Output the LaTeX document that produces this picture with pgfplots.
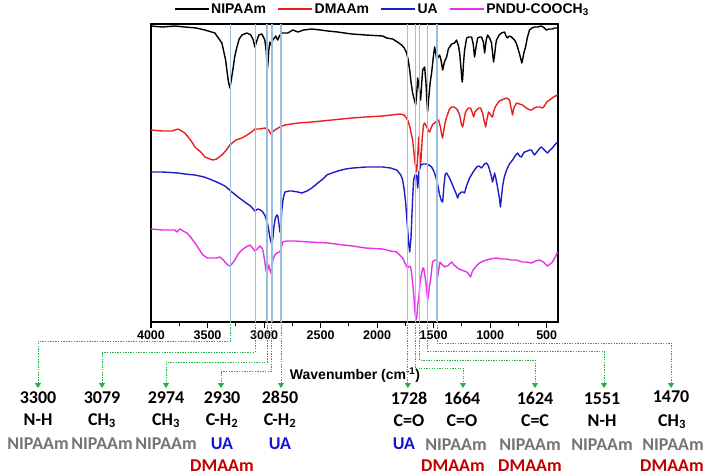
\documentclass[border=0pt]{standalone}
\usepackage{fontspec}
\setmainfont{Liberation Sans}
\newfontfamily\carl{Carlito}
\usepackage{pgfplots}
\pgfplotsset{compat=1.18}
\usetikzlibrary{arrows.meta}
\definecolor{cRed}{HTML}{E8201E}
\definecolor{cBlue}{HTML}{1E1EC8}
\definecolor{cMag}{HTML}{E633E6}
\definecolor{vline}{HTML}{9ABFDD}
\definecolor{gdot}{HTML}{22B04A}
\definecolor{tgray}{HTML}{747474}
\definecolor{tblue}{HTML}{1414D2}
\definecolor{tred}{HTML}{C00000}

\pgfplotstableread{
wn h
4000 296
3900 295
3788 296
3700 295
3600 294
3523 292
3435 289
3373 279
3340 262
3329 252
3315 240
3302 234
3290 242
3276 252
3260 265
3240 275
3220 283
3196 287
3152 289
3117 287
3095 282
3081 275
3065 281
3046 287
3019 288
2993 282
2980 270
2972 252
2966 258
2958 272
2949 280
2940 277
2930 279
2922 282
2896 286
2885 283
2878 282
2865 286
2843 289
2790 289
2746 292
2701 290
2650 292
2578 293
2500 292
2436 291
2350 290
2224 288
2100 287
1950 286
1915 284
1862 283
1820 280
1783 277
1760 274
1739 269
1725 262
1712 252
1700 240
1686 229
1670 222
1659 217
1650 228
1641 244
1630 236
1615 222
1605 240
1597 252
1580 255
1568 240
1560 222
1553 210
1545 222
1530 240
1518 249
1500 268
1491 275
1480 268
1473 262
1460 265
1447 267
1435 262
1420 252
1405 260
1385 265
1370 273
1359 275
1340 278
1315 279
1297 282
1280 276
1270 269
1255 250
1248 240
1244 242
1235 260
1226 272
1208 284
1190 285
1164 285
1150 278
1138 265
1125 275
1111 284
1090 285
1076 285
1060 280
1049 269
1035 282
1023 287
1005 284
988 279
975 265
970 260
962 266
950 278
944 282
920 287
900 289
873 290
860 286
847 284
830 286
811 285
795 283
784 282
770 279
758 275
740 268
720 259
714 262
700 270
687 275
670 285
652 292
630 294
608 295
580 295
546 296
520 294
502 292
480 293
449 293
430 294
404 294
}\nipaam

\pgfplotstableread{
wn h
4000 192
3900 191
3815 191
3761 193
3730 191
3700 189
3650 182
3611 175
3560 170
3523 165
3480 163
3452 162
3420 163
3373 167
3340 171
3302 177
3250 182
3196 184
3150 187
3100 191
3081 193
3040 193
2993 194
2960 192
2940 188
2925 190
2905 192
2860 195
2816 197
2700 199
2578 200
2400 202
2224 204
2100 205
1950 206
1800 208
1760 207
1730 202
1710 195
1686 182
1670 165
1655 150
1648 153
1640 168
1632 185
1625 170
1618 154
1610 165
1600 185
1590 197
1580 199
1560 195
1545 191
1535 190
1520 195
1505 198
1491 199
1470 201
1456 202
1440 195
1430 188
1420 184
1410 192
1397 200
1385 205
1360 213
1341 215
1320 215
1306 214
1288 212
1270 207
1255 198
1244 195
1235 200
1220 209
1208 212
1190 214
1173 214
1160 210
1146 205
1135 210
1120 212
1100 214
1085 214
1067 209
1055 202
1040 195
1030 202
1014 210
1000 208
990 206
979 205
970 210
955 215
944 217
920 221
900 222
855 224
829 222
815 214
802 207
790 214
767 219
740 218
714 217
680 214
650 212
634 212
610 214
590 215
560 215
537 214
520 216
500 220
475 222
440 225
404 227
}\dmaam

\pgfplotstableread{
wn h
4000 150
3900 150
3761 149
3700 148
3611 147
3530 145
3461 142
3400 139
3346 136
3284 130
3230 125
3170 120
3120 116
3081 111
3055 113
3030 112
3011 110
2990 106
2966 97
2949 85
2931 77
2920 86
2913 95
2900 104
2887 107
2878 106
2868 98
2860 90
2852 92
2843 112
2830 124
2816 130
2780 131
2754 131
2701 130
2666 129
2620 131
2578 134
2525 139
2480 143
2445 147
2400 149
2348 151
2280 153
2215 154
2100 155
1950 155
1880 154
1827 152
1790 147
1774 142
1760 132
1747 119
1735 100
1721 79
1712 70
1700 85
1694 102
1685 125
1677 142
1665 147
1650 147
1641 134
1630 150
1615 157
1590 158
1562 158
1540 157
1518 155
1495 150
1473 142
1460 135
1447 127
1430 121
1420 120
1410 135
1397 148
1385 149
1370 146
1359 144
1340 139
1315 132
1300 128
1288 124
1275 128
1253 130
1240 130
1226 129
1210 136
1182 144
1150 150
1120 155
1100 156
1076 154
1050 158
1032 159
1015 156
1005 152
990 146
979 140
970 144
961 149
950 144
935 135
920 125
909 115
900 125
891 135
875 145
855 152
830 158
802 162
780 166
758 169
740 166
723 165
710 168
696 170
670 171
650 172
634 172
620 169
608 167
580 171
560 174
546 175
520 172
493 169
470 172
449 174
430 177
404 180
}\ua

\pgfplotstableread{
wn h
4000 93
3900 92
3815 92
3790 92
3770 90
3755 92
3744 93
3715 91
3682 89
3650 85
3611 79
3570 72
3541 67
3500 64
3461 64
3420 64
3390 65
3360 62
3346 60
3320 57
3302 56
3285 58
3258 62
3230 68
3196 72
3160 75
3125 77
3100 74
3081 71
3060 73
3037 76
3020 74
3011 72
2995 62
2985 53
2975 49
2965 54
2958 57
2950 53
2940 49
2930 55
2922 62
2905 67
2887 69
2860 70
2845 75
2834 80
2800 81
2728 81
2600 80
2436 79
2300 77
2215 76
2100 74
1950 73
1880 71
1827 70
1800 67
1774 64
1750 58
1730 54
1715 56
1703 55
1690 44
1677 29
1665 10
1657 2
1650 4
1640 18
1632 22
1620 40
1606 49
1595 54
1588 54
1580 48
1571 42
1560 30
1553 22
1545 28
1535 38
1527 42
1515 55
1509 60
1490 62
1473 62
1465 45
1455 52
1445 60
1438 59
1420 57
1403 55
1390 56
1376 56
1360 58
1341 60
1320 57
1297 55
1275 53
1253 52
1230 51
1208 50
1190 48
1173 45
1160 50
1138 54
1115 57
1094 59
1060 61
1032 62
1000 63
944 64
900 63
855 63
820 62
767 62
740 61
714 60
680 60
634 59
600 61
564 62
530 60
493 56
470 58
449 60
420 66
404 70
}\pndu

\newcommand{\lab}[4]{\node[anchor=base, inner sep=0pt, text=#3,
  font=\carl\bfseries\fontsize{18}{18}\selectfont] at (#1,#2) {#4};}

\begin{document}
\begin{tikzpicture}[x=1pt,y=1pt]
\path[use as bounding box] (0,0) rectangle (708,-475);
\begin{axis}[
  at={(151pt,-322pt)}, anchor=south west,
  scale only axis, width=407pt, height=298pt,
  xmin=400, xmax=4000, x dir=reverse,
  ymin=0, ymax=298,
  ytick=\empty,
  xtick={500,1000,...,4000},
  minor x tick num=1,
  xtick pos=bottom,
  tick align=outside,
  major tick length=6pt, minor tick length=3.5pt,
  axis line style={line width=1.2pt},
  every tick/.style={black, line width=1.1pt},
  /pgf/number format/1000 sep={},
  /pgf/number format/assume math mode=true,
  xticklabel style={font=\bfseries\fontsize{12.5}{12.5}\selectfont, yshift=1pt},
  legend style={at={(axis description cs:0.0565,1.0503)}, anchor=west,
    draw=none, fill=none, inner sep=0pt,
    legend columns=4,
    font=\bfseries\fontsize{14}{16}\selectfont,
    nodes={inner sep=1.5pt},
    /tikz/every even column/.append style={column sep=10pt}},
  legend image code/.code={\draw[#1, line width=1.5pt] (0pt,0pt) -- (34pt,0pt);},
  every axis plot/.append style={line width=1.4pt, line join=round},
]
\addplot[black] table[x=wn,y=h] {\nipaam};
\addlegendentry{NIPAAm}
\addplot[cRed] table[x=wn,y=h] {\dmaam};
\addlegendentry{DMAAm}
\addplot[cBlue] table[x=wn,y=h] {\ua};
\addlegendentry{UA}
\addplot[cMag] table[x=wn,y=h] {\pndu};
\addlegendentry{PNDU-COOCH\textsubscript{3}}
\pgfplotsinvokeforeach{3300,3079,2974,2930,2850,1728,1664,1624,1551,1470}{
  \draw[vline, line width=1.1pt] (axis cs:#1,0) -- (axis cs:#1,298);
  \coordinate (b#1) at (axis cs:#1,0);
}
\end{axis}

\node[font=\bfseries\fontsize{14}{14}\selectfont, inner sep=0pt] at (355,-375) {Wavenumber (cm\textsuperscript{-1})};

\begin{scope}[gdot, line width=1pt, dash pattern=on 1.3pt off 1.3pt,
  -{Triangle[width=6pt,length=5pt]}]
\draw (b3300) |- (38,-341) -- (38,-388);
\draw (b3079) |- (102,-352) -- (102,-388);
\draw (b2974) |- (166,-362) -- (166,-388);
\draw (b2930) |- (221,-371) -- (221,-388);
\draw (b2850) -- ++(0,-66);
\draw (b1728) -- ++(0,-66);
\draw (b1664) |- (463,-368) -- (463,-388);
\draw (b1624) |- (535,-360) -- (535,-388);
\draw (b1551) |- (604,-351) -- (604,-388);
\draw (b1470) |- (671,-343) -- (671,-388);
\end{scope}

% left group
\lab{38}{-403}{black}{3300}
\lab{38}{-425}{black}{N-H}
\lab{38}{-449}{tgray}{NIPAAm}
\lab{102}{-403}{black}{3079}
\lab{102}{-425}{black}{CH\textsubscript{3}}
\lab{102}{-449}{tgray}{NIPAAm}
\lab{166}{-403}{black}{2974}
\lab{166}{-425}{black}{CH\textsubscript{3}}
\lab{166}{-449}{tgray}{NIPAAm}
\lab{222}{-403}{black}{2930}
\lab{222}{-425}{black}{C-H\textsubscript{2}}
\lab{222}{-449}{tblue}{UA}
\lab{222}{-471}{tred}{DMAAm}
\lab{280}{-403}{black}{2850}
\lab{280}{-425}{black}{C-H\textsubscript{2}}
\lab{280}{-449}{tblue}{UA}
% right group
\lab{409}{-404}{black}{1728}
\lab{409}{-426}{black}{C=O}
\lab{404}{-449}{tblue}{UA}
\lab{462}{-404}{black}{1664}
\lab{462}{-426}{black}{C=O}
\lab{456}{-450}{tgray}{NIPAAm}
\lab{453}{-471}{tred}{DMAAm}
\lab{535}{-404}{black}{1624}
\lab{535}{-426}{black}{C=C}
\lab{530}{-450}{tgray}{NIPAAm}
\lab{530}{-471}{tred}{DMAAm}
\lab{602}{-404}{black}{1551}
\lab{602}{-426}{black}{N-H}
\lab{602}{-450}{tgray}{NIPAAm}
\lab{671}{-402}{black}{1470}
\lab{672}{-426}{black}{CH\textsubscript{3}}
\lab{673}{-450}{tgray}{NIPAAm}
\lab{672}{-471}{tred}{DMAAm}
\end{tikzpicture}
\end{document}
